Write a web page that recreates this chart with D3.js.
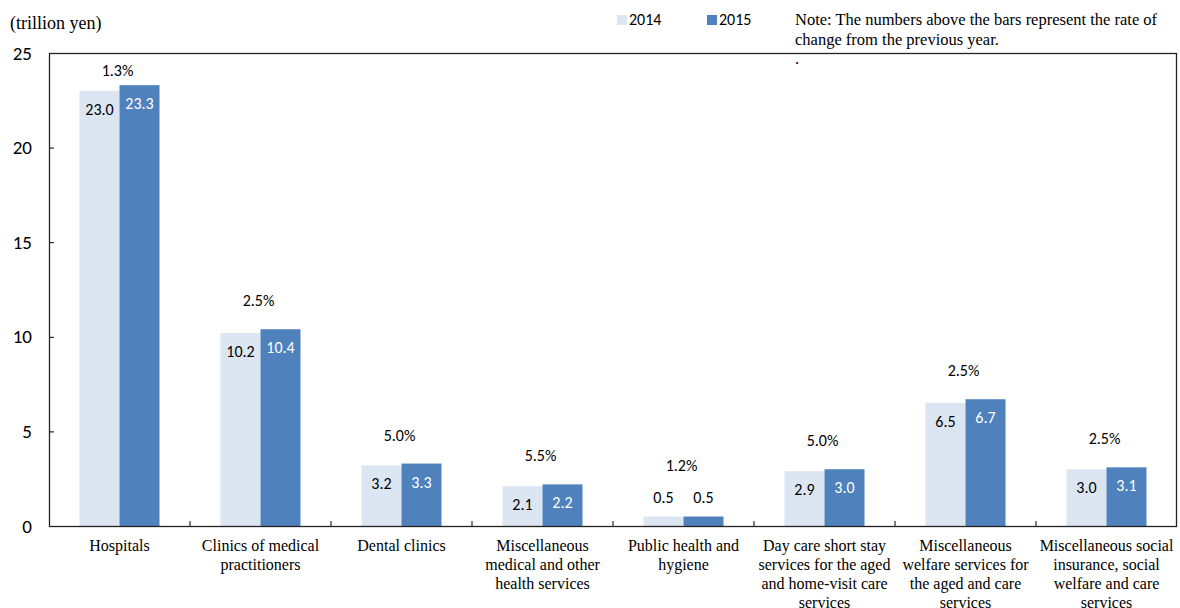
<!DOCTYPE html>
<html>
<head>
<meta charset="utf-8">
<script src="https://cdn.jsdelivr.net/npm/d3@7/dist/d3.min.js"></script>
<style>
  body { margin: 0; background: #fff; }
  svg { display: block; }
  .sans { font-family: Carlito, Lato, "Liberation Sans", sans-serif; }
  .serif { font-family: "Liberation Serif", "Times New Roman", serif; }
</style>
</head>
<body>
<div id="chart"></div>
<script>
// 数据
const categories = [
  "Hospitals",
  "Clinics of medical practitioners",
  "Dental clinics",
  "Miscellaneous medical and other health services",
  "Public health and hygiene",
  "Day care short stay services for the aged and home-visit care services",
  "Miscellaneous welfare services for the aged and care services",
  "Miscellaneous social insurance, social welfare and care services"
];
const categoryLines = [
  ["Hospitals"],
  ["Clinics of medical", "practitioners"],
  ["Dental clinics"],
  ["Miscellaneous", "medical and other", "health services"],
  ["Public health and", "hygiene"],
  ["Day care short stay", "services for the aged", "and home-visit care", "services"],
  ["Miscellaneous", "welfare services for", "the aged and care", "services"],
  ["Miscellaneous social", "insurance, social", "welfare and care", "services"]
];
const series = ["2014", "2015"];
const values2014 = [23.0, 10.2, 3.2, 2.1, 0.5, 2.9, 6.5, 3.0];
const values2015 = [23.3, 10.4, 3.3, 2.2, 0.5, 3.0, 6.7, 3.1];
const changeRate = ["1.3%", "2.5%", "5.0%", "5.5%", "1.2%", "5.0%", "2.5%", "2.5%"];
const yTicks = [0, 5, 10, 15, 20, 25];
const noteLines = ["Note: The numbers above the bars represent the rate of", "change from the previous year.", "."];

const width = 1180, height = 608;
const margin = { top: 53, right: 3, bottom: 82, left: 49 };
const colors = { "2014": "#dce6f2", "2015": "#4f81bd" };
const sansFont = "Carlito, Lato, 'Liberation Sans', sans-serif";

const svg = d3.select("#chart").append("svg")
  .attr("width", width)
  .attr("height", height);

const x0 = d3.scaleBand().domain(categories).range([margin.left, width - margin.right]).padding(0);
const barW = 40;
const x1 = d3.scaleBand().domain(series)
  .range([(x0.bandwidth() - 2 * barW) / 2, (x0.bandwidth() + 2 * barW) / 2]);
const y = d3.scaleLinear().domain([0, 25]).range([height - margin.bottom, margin.top]);

const rows = categories.map((c, i) => ({
  cat: c, lines: categoryLines[i], rate: changeRate[i],
  vals: [{ s: "2014", v: values2014[i] }, { s: "2015", v: values2015[i] }]
}));

// 柱子
const groups = svg.append("g").selectAll("g")
  .data(rows).enter().append("g")
  .attr("transform", d => `translate(${x0(d.cat)},0)`);

groups.selectAll("rect")
  .data(d => d.vals).enter().append("rect")
  .attr("x", d => x1(d.s))
  .attr("y", d => y(d.v))
  .attr("width", x1.bandwidth())
  .attr("height", d => y(0) - y(d.v))
  .attr("fill", d => colors[d.s]);

// 数值标签：柱子太矮就放在上方
function labelY(v) {
  const h = y(0) - y(v);
  return h < 30 ? y(v) - 14 : y(v) + 24;
}
groups.selectAll("text.val")
  .data(d => d.vals).enter().append("text")
  .attr("class", "val sans")
  .attr("x", d => x1(d.s) + x1.bandwidth() / 2)
  .attr("y", d => labelY(d.v))
  .attr("text-anchor", "middle")
  .attr("font-size", 16)
  .attr("fill", d => (d.s === "2015" && y(0) - y(d.v) >= 30) ? "#fff" : "#000")
  .text(d => d.v.toFixed(1));

// 增长率标签
groups.append("text")
  .attr("class", "sans")
  .attr("x", x0.bandwidth() / 2 - 2)
  .attr("y", d => {
    const low = d.vals.some(e => y(0) - y(e.v) < 30);
    const top = d3.min(d.vals, e => y(e.v));
    const t = low ? top - 46 : top - 23;
    return Math.max(t, margin.top + 23);
  })
  .attr("text-anchor", "middle")
  .attr("font-size", 16)
  .attr("fill", "#000")
  .text(d => d.rate);

// 坐标轴
const yAxis = d3.axisLeft(y).tickValues(yTicks).tickSize(-5).tickPadding(17).tickFormat(d3.format("d"));
const gy = svg.append("g")
  .attr("transform", `translate(${margin.left},0)`)
  .call(yAxis);
gy.select(".domain").remove();
gy.selectAll("line").attr("stroke", "#000");
gy.selectAll("text").attr("font-size", 19).attr("fill", "#000")
  .attr("font-family", sansFont);

// 分类边界刻度
const bounds = categories.slice(1).map(c => x0(c));
svg.append("g").selectAll("line")
  .data(bounds).enter().append("line")
  .attr("x1", d => d).attr("x2", d => d)
  .attr("y1", y(0)).attr("y2", y(0) - 5)
  .attr("stroke", "#000");

// 绘图区边框
svg.append("rect")
  .attr("x", margin.left + 0.5)
  .attr("y", margin.top + 0.5)
  .attr("width", width - margin.left - margin.right - 1)
  .attr("height", y(0) - margin.top)
  .attr("fill", "none")
  .attr("stroke", "#222")
  .attr("stroke-width", 1.3);

// 分类标签
const xl = svg.append("g").selectAll("text")
  .data(rows).enter().append("text")
  .attr("class", "serif")
  .attr("text-anchor", "middle")
  .attr("font-size", 16)
  .attr("fill", "#000")
  .attr("transform", d => `translate(${x0(d.cat) + x0.bandwidth() / 2},${y(0) + 25})`);
xl.selectAll("tspan")
  .data(d => d.lines).enter().append("tspan")
  .attr("x", 0)
  .attr("y", (d, i) => i * 19)
  .text(d => d);

// 单位
svg.append("text")
  .attr("class", "serif")
  .attr("x", 10).attr("y", 29)
  .attr("font-size", 18)
  .text("(trillion yen)");

// 图例
const legend = svg.append("g").selectAll("g")
  .data(series).enter().append("g")
  .attr("transform", (d, i) => `translate(${617 + i * 90},15)`);
legend.append("rect")
  .attr("width", 10).attr("height", 10)
  .attr("fill", d => colors[d]);
legend.append("text")
  .attr("class", "sans")
  .attr("x", 12).attr("y", 10)
  .attr("font-size", 16)
  .text(d => d);

// 注释
svg.append("g").selectAll("text")
  .data(noteLines).enter().append("text")
  .attr("class", "serif")
  .attr("x", 795)
  .attr("y", (d, i) => 25 + i * 19.5)
  .attr("font-size", 16.5)
  .text(d => d);
</script>
</body>
</html>
